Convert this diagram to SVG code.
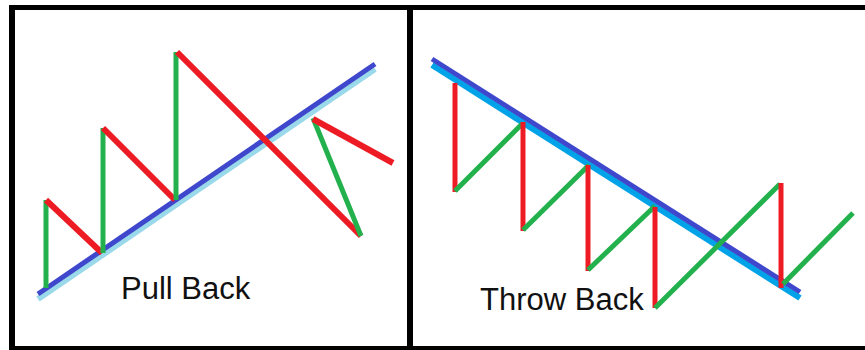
<svg xmlns="http://www.w3.org/2000/svg" width="865" height="350" viewBox="0 0 865 350">
<style>
.frame{fill:#000}
.r{stroke:#ed1c24;stroke-width:5;fill:none}
.rl{stroke:#ed1c24;stroke-width:6;fill:none}
.g{stroke:#22b14c;stroke-width:5;fill:none}
.b{stroke:#3f48cc;stroke-width:5;fill:none}
.lb1{stroke:#99d9ea;stroke-width:6;fill:none}
.lb2{stroke:#00a2e8;stroke-width:6;fill:none}
.t{font-family:"Liberation Sans",Arial,sans-serif;font-size:31px;fill:#111}
</style>
<rect width="865" height="350" fill="#fff"/>
<g id="frame">
<rect class="frame" x="9" y="5" width="856" height="5"/>
<rect class="frame" x="9" y="5" width="6" height="345"/>
<rect class="frame" x="407" y="5" width="6" height="345"/>
<rect class="frame" x="9" y="346" width="856" height="4"/>
</g>
<g id="pullback">
<line class="lb1" x1="38" y1="299" x2="375" y2="69"/>
<line class="b" x1="38" y1="294" x2="375" y2="64"/>
<line class="g" x1="46" y1="200" x2="46" y2="288"/>
<line class="rl" x1="46" y1="200" x2="102" y2="253"/>
<line class="g" x1="103" y1="128" x2="103" y2="253"/>
<line class="rl" x1="103" y1="128" x2="175" y2="200"/>
<line class="g" x1="176" y1="52" x2="176" y2="200"/>
<line class="rl" x1="177" y1="52" x2="361" y2="236"/>
<line class="g" x1="361" y1="236" x2="313" y2="118"/>
<line class="rl" x1="313" y1="119" x2="393" y2="163"/>
<text class="t" x="121" y="299">Pull Back</text>
</g>
<g id="throwback">
<line class="lb2" x1="432" y1="65" x2="800" y2="298"/>
<line class="b" x1="432" y1="59" x2="800" y2="292"/>
<line class="r" x1="455" y1="83" x2="455" y2="192"/>
<line class="g" x1="455" y1="191" x2="522" y2="124"/>
<line class="r" x1="523" y1="122" x2="523" y2="231"/>
<line class="g" x1="523" y1="230" x2="589" y2="165"/>
<line class="r" x1="588" y1="165" x2="588" y2="271"/>
<line class="g" x1="588" y1="270" x2="655" y2="206"/>
<line class="r" x1="655" y1="207" x2="655" y2="308"/>
<line class="g" x1="655" y1="308" x2="780" y2="184"/>
<line class="r" x1="781" y1="183" x2="781" y2="288"/>
<line class="g" x1="783" y1="284" x2="853" y2="213"/>
<text class="t" x="480" y="310">Throw Back</text>
</g>
</svg>
